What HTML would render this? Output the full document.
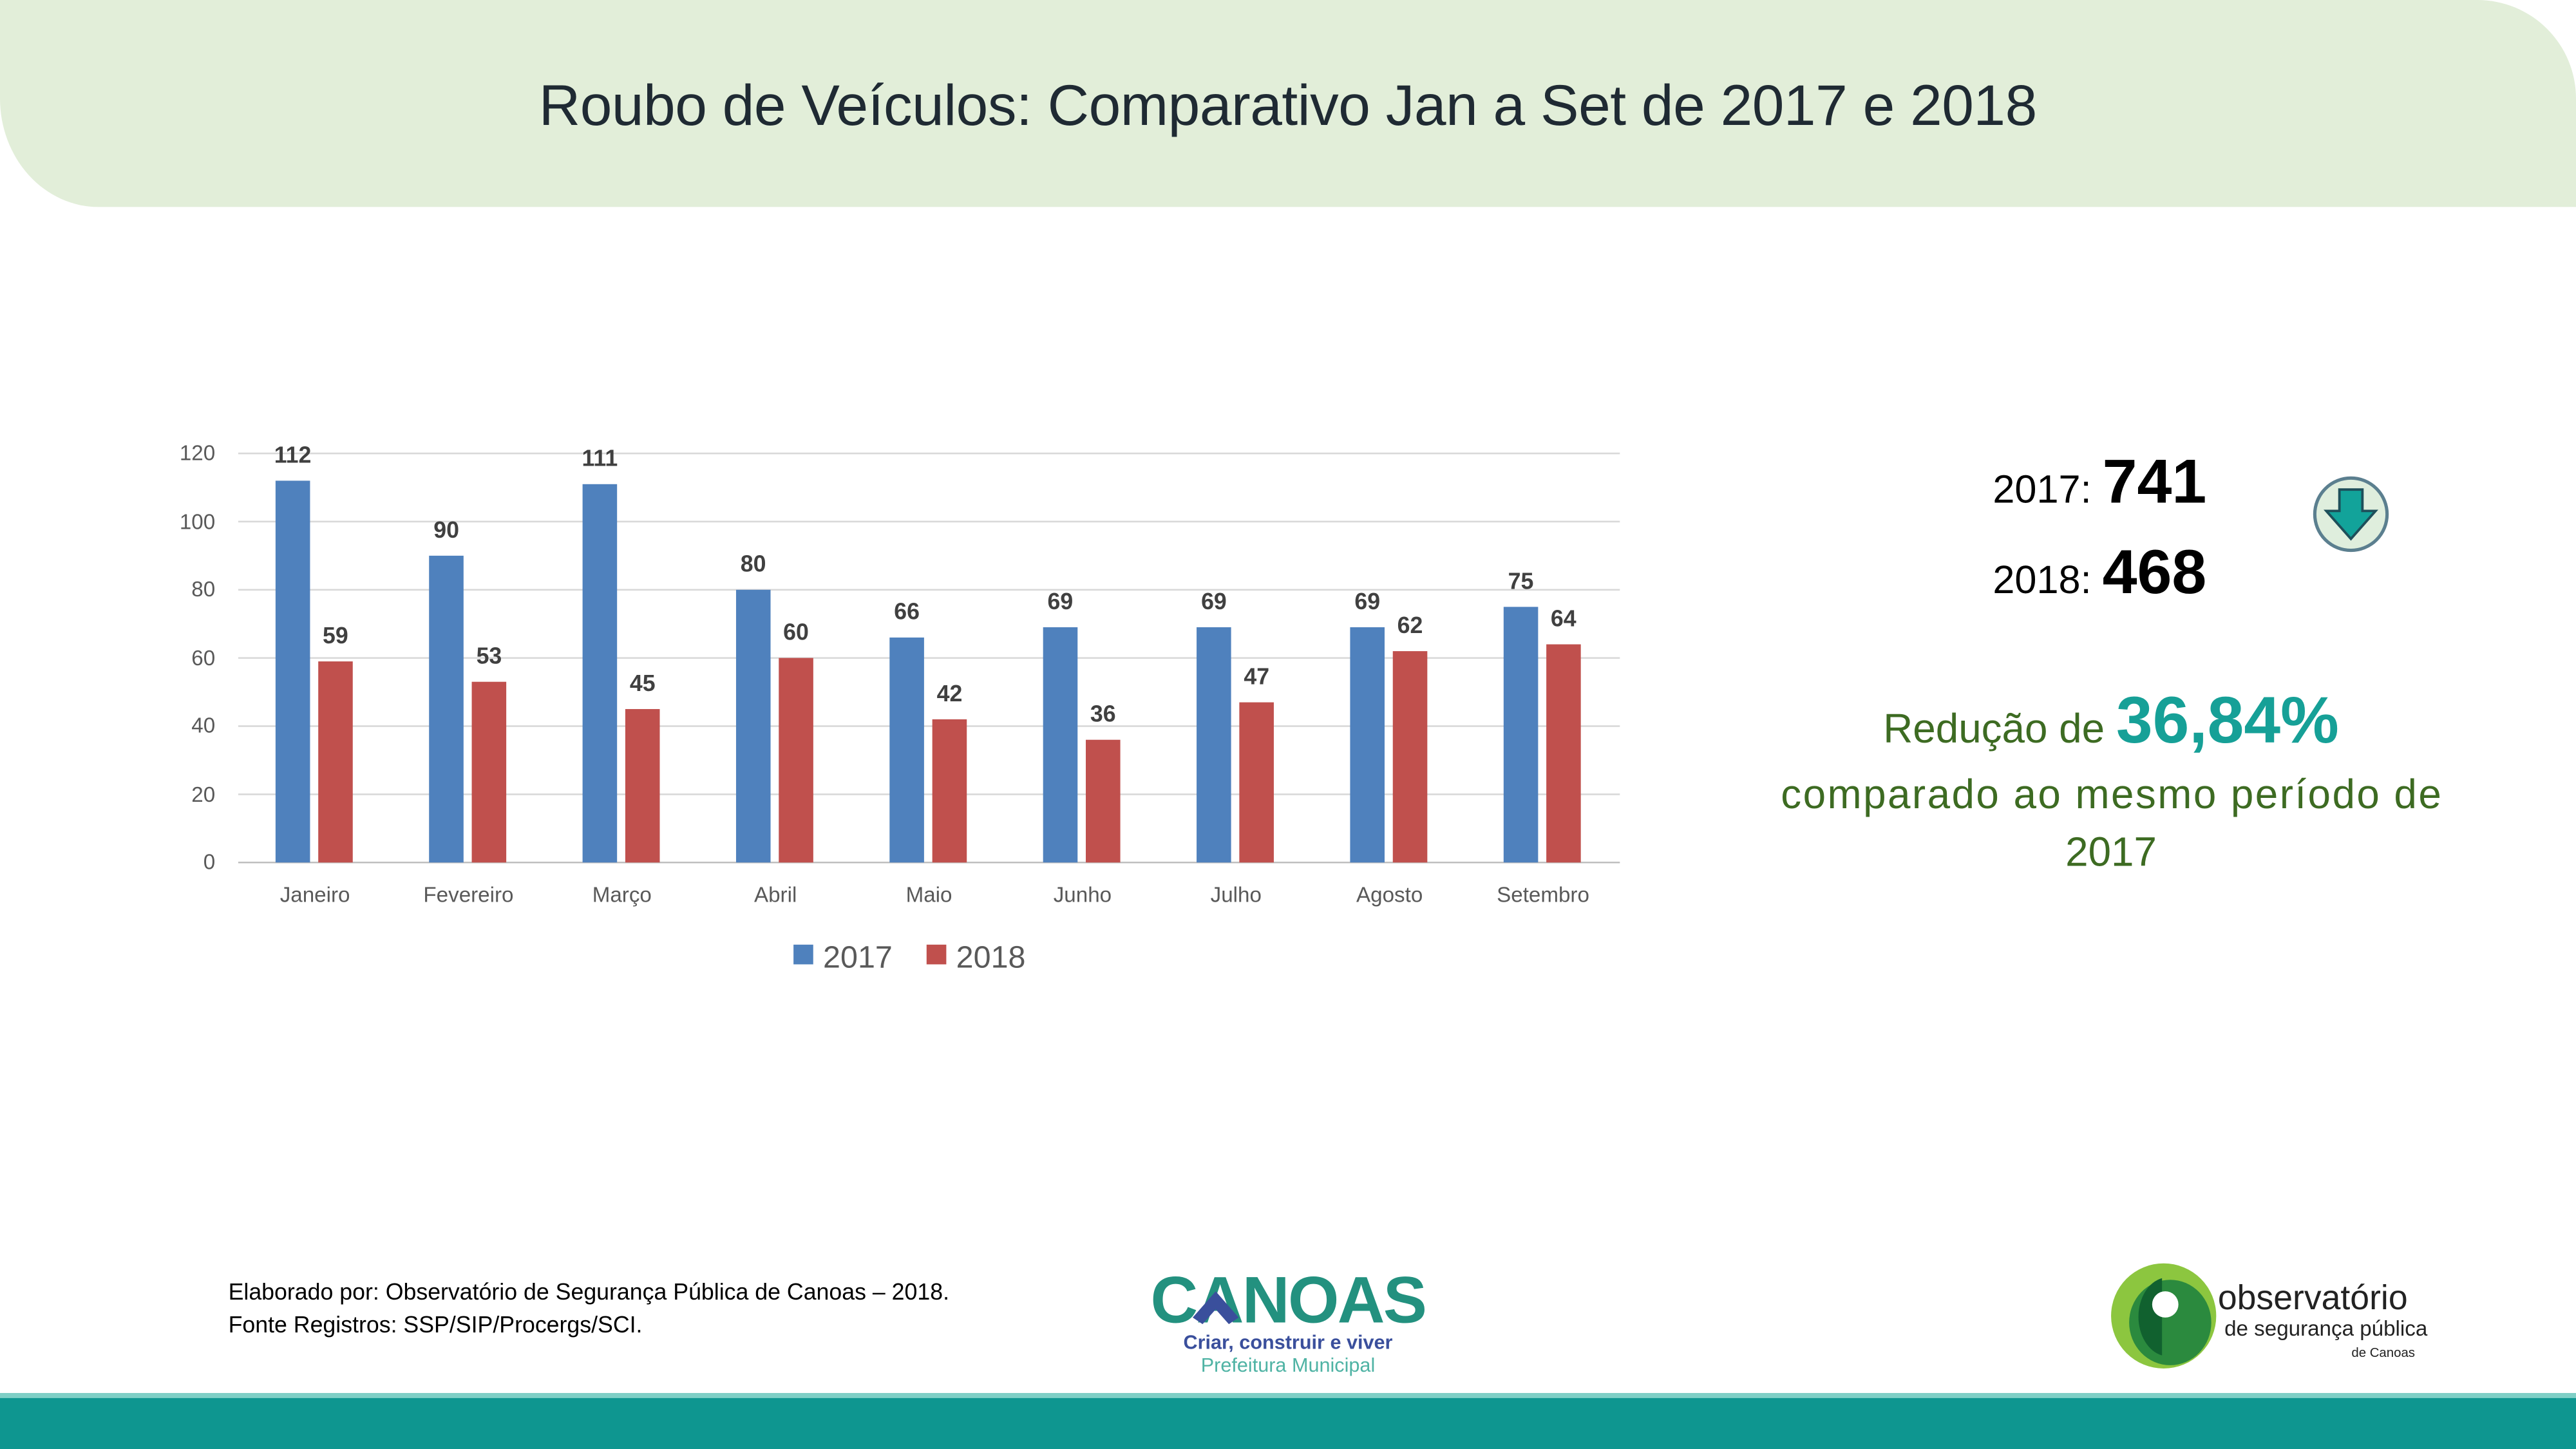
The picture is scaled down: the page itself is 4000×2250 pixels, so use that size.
<!DOCTYPE html>
<html><head><meta charset="utf-8"><style>
html,body{margin:0;padding:0;background:#fff}
svg{display:block}
text{font-family:"Liberation Sans","DejaVu Sans",sans-serif}
</style></head><body>
<svg width="4000" height="2250" viewBox="0 0 1568 882" xmlns="http://www.w3.org/2000/svg">
<rect width="1568" height="882" fill="#fff"/>
<path d="M0 0 H1508 A60 60 0 0 1 1568 60 V126 H60 A60 66 0 0 1 0 60 Z" fill="#e2eed9"/>
<text x="784" y="76" text-anchor="middle" font-size="35" fill="#1f2a33" textLength="912">Roubo de Veículos: Comparativo Jan a Set de 2017 e 2018</text>
<rect x="0" y="848" width="1568" height="34" fill="#0e9690"/>
<rect x="0" y="848" width="1568" height="3" fill="#7fcfc6"/>
<g stroke="#d9d9d9" stroke-width="1">
<line x1="145" y1="276" x2="986" y2="276"/><line x1="145" y1="317.5" x2="986" y2="317.5"/>
<line x1="145" y1="359" x2="986" y2="359"/><line x1="145" y1="400.5" x2="986" y2="400.5"/>
<line x1="145" y1="442" x2="986" y2="442"/><line x1="145" y1="483.5" x2="986" y2="483.5"/>
<line x1="145" y1="525" x2="986" y2="525" stroke="#bfbfbf"/>
</g>
<g font-size="13" fill="#595959" text-anchor="end">
<text x="131" y="280">120</text><text x="131" y="322">100</text><text x="131" y="363">80</text>
<text x="131" y="405">60</text><text x="131" y="446">40</text><text x="131" y="488">20</text><text x="131" y="529">0</text>
</g>
<g fill="#4f81bd">
<rect x="167.72" y="292.6" width="21" height="232.4"/>
<rect x="261.16" y="338.25" width="21" height="186.75"/>
<rect x="354.6" y="294.7" width="21" height="230.3"/>
<rect x="448.04" y="359" width="21" height="166"/>
<rect x="541.48" y="388.05" width="21" height="136.95"/>
<rect x="634.92" y="381.8" width="21" height="143.2"/>
<rect x="728.36" y="381.8" width="21" height="143.2"/>
<rect x="821.8" y="381.8" width="21" height="143.2"/>
<rect x="915.24" y="369.4" width="21" height="155.6"/>
</g>
<g fill="#c0504d">
<rect x="193.72" y="402.6" width="21" height="122.4"/>
<rect x="287.16" y="415" width="21" height="110"/>
<rect x="380.6" y="431.6" width="21" height="93.4"/>
<rect x="474.04" y="400.5" width="21" height="124.5"/>
<rect x="567.48" y="437.85" width="21" height="87.15"/>
<rect x="660.92" y="450.3" width="21" height="74.7"/>
<rect x="754.36" y="427.5" width="21" height="97.5"/>
<rect x="847.8" y="396.35" width="21" height="128.65"/>
<rect x="941.24" y="392.2" width="21" height="132.8"/>
</g>
<g font-size="14" font-weight="bold" fill="#404040" text-anchor="middle">
<text x="178.2" y="281.6">112</text><text x="271.7" y="327.3">90</text><text x="365.1" y="283.7">111</text>
<text x="458.5" y="348">80</text><text x="552" y="377">66</text><text x="645.4" y="370.8">69</text>
<text x="738.9" y="370.8">69</text><text x="832.3" y="370.8">69</text><text x="925.7" y="358.4">75</text>
<text x="204.2" y="391.6">59</text><text x="297.7" y="404">53</text><text x="391.1" y="420.6">45</text>
<text x="484.5" y="389.5">60</text><text x="578" y="426.9">42</text><text x="671.4" y="439.3">36</text>
<text x="764.9" y="416.5">47</text><text x="858.3" y="385.4">62</text><text x="951.7" y="381.2">64</text>
</g>
<g font-size="13" fill="#595959" text-anchor="middle">
<text x="191.72" y="549">Janeiro</text><text x="285.16" y="549">Fevereiro</text><text x="378.6" y="549">Março</text>
<text x="472.04" y="549">Abril</text><text x="565.48" y="549">Maio</text><text x="658.92" y="549">Junho</text>
<text x="752.36" y="549">Julho</text><text x="845.8" y="549">Agosto</text><text x="939.24" y="549">Setembro</text>
</g>
<rect x="483" y="575" width="12" height="12" fill="#4f81bd"/>
<text x="501" y="589" font-size="19" fill="#595959">2017</text>
<rect x="564" y="575" width="12" height="12" fill="#c0504d"/>
<text x="582" y="589" font-size="19" fill="#595959">2018</text>
<text x="1213" y="306" font-size="24" fill="#000">2017: <tspan font-size="38" font-weight="bold">741</tspan></text>
<text x="1213" y="361" font-size="24" fill="#000">2018: <tspan font-size="38" font-weight="bold">468</tspan></text>
<circle cx="1431" cy="313" r="22" fill="#dfeedd" stroke="#5b7f8f" stroke-width="2"/>
<path d="M1424 298 h14 v13 h8 l-15 17 l-15 -17 h8 z" fill="#12a39a" stroke="#1e4f5a" stroke-width="1.5"/>
<text x="1285" y="452" text-anchor="middle" font-size="25" fill="#3d6b22">Redução  de <tspan font-size="40" font-weight="bold" fill="#16a097">36,84%</tspan></text>
<text x="1285" y="492" text-anchor="middle" font-size="25" fill="#3d6b22" textLength="402">comparado ao mesmo período de</text>
<text x="1285" y="527" text-anchor="middle" font-size="25" fill="#3d6b22">2017</text>
<text x="139" y="791" font-size="14" fill="#000">Elaborado por: Observatório de Segurança Pública de Canoas – 2018.</text>
<text x="139" y="811" font-size="14" fill="#000">Fonte Registros: SSP/SIP/Procergs/SCI.</text>
<text x="784" y="805" text-anchor="middle" font-size="40" font-weight="bold" fill="#23917f" letter-spacing="-1">CANOAS</text>
<path d="M726 802 L740 786 L754 802 L748 806 L740 797 L732 806 Z" fill="#3a4f9c"/>
<text x="784" y="821" text-anchor="middle" font-size="12" font-weight="bold" fill="#3a4f9c">Criar, construir e viver</text>
<text x="784" y="835" text-anchor="middle" font-size="12" fill="#4fb3a4">Prefeitura Municipal</text>
<ellipse cx="1317" cy="801" rx="32" ry="32" fill="#8cc63f"/>
<ellipse cx="1321" cy="805" rx="25" ry="26" fill="#2b8a3e"/>
<path d="M1316 778 A18 24 0 0 0 1316 825 Z" fill="#11612f"/>
<circle cx="1318" cy="794" r="8" fill="#fff"/>
<text x="1350" y="797" font-size="21" fill="#222" font-family="Liberation Serif,serif">observatório</text>
<text x="1354" y="813" font-size="13" fill="#222" font-family="Liberation Serif,serif">de segurança pública</text>
<text x="1470" y="826" text-anchor="end" font-size="8" fill="#222">de Canoas</text>
</svg>
</body></html>
